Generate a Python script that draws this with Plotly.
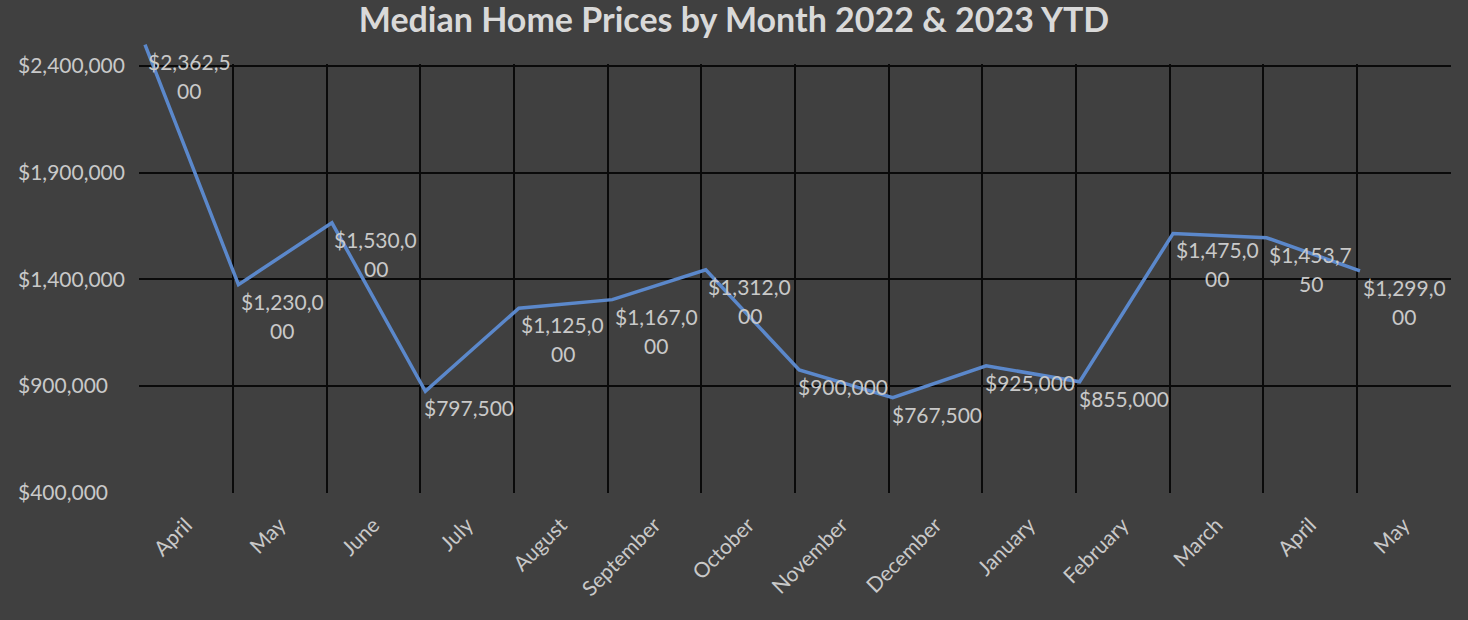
import plotly.graph_objects as go

# ---------------- data ----------------
months = ["April", "May", "June", "July", "August", "September", "October",
          "November", "December", "January", "February", "March", "April", "May"]
# values printed in the data labels
label_prices = [2362500, 1230000, 1530000, 797500, 1125000, 1167000, 1312000,
                900000, 767500, 925000, 855000, 1475000, 1453750, 1299000]
# where the line is actually drawn against the value axis
line_prices = [2500000, 1375000, 1665000, 875000, 1265000, 1305000, 1445000,
               975000, 845000, 995000, 920000, 1615000, 1595000, 1440000]
y_ticks = [400000, 900000, 1400000, 1900000, 2400000]
y_tick_text = ["$400,000", "$900,000", "$1,400,000", "$1,900,000", "$2,400,000"]
title_text = "Median Home Prices by Month 2022 & 2023 YTD"

# ---------------- layout geometry ----------------
W, H = 1468, 620
PL, PR = 139.3, 1450.7          # plot area left / right (px)
Y_TOP_PX, Y_BOT_PX = 66.0, 492.7  # pixel of top / bottom tick value
PT0_PX, PTN_PX = 145.0, 1360.0  # pixel of first / last line point
YLAB_LEFT_PX = 17.0             # left edge of the (left aligned) y tick labels

px_per_val = (Y_BOT_PX - Y_TOP_PX) / (y_ticks[-1] - y_ticks[0])
y_pad = 10000
y_range = [y_ticks[0], y_ticks[-1] + y_pad]
y_dom = [1 - Y_BOT_PX / H, 1 - (Y_TOP_PX - y_pad * px_per_val) / H]
y2_range = [y_ticks[0] - (H - Y_BOT_PX) / px_per_val, y_ticks[-1] + Y_TOP_PX / px_per_val]

n = len(months)
x_dom = [PL / W, PR / W]
s = (PTN_PX - PT0_PX) / (n - 1)
x2_range = [-(PT0_PX - PL) / s, (n - 1) + (PR - PTN_PX) / s]

FONT = "Lato"
TXT = "#C9C9C9"
BG = "#404040"
LINE = "#5B88CB"
GRID = "#0A0A0A"

idx = list(range(n))

fig = go.Figure()
# invisible traces so that the gridded x/y subplot and the label axis get drawn
fig.add_trace(go.Scatter(
    x=idx, y=line_prices, xaxis="x", yaxis="y", mode="none",
    hoverinfo="skip", showlegend=False,
))
fig.add_trace(go.Scatter(
    x=idx, y=line_prices, xaxis="x", yaxis="y3", mode="none",
    hoverinfo="skip", showlegend=False,
))
fig.add_trace(go.Scatter(
    x=idx, y=line_prices, xaxis="x2", yaxis="y2", mode="lines",
    line=dict(color=LINE, width=3.5), hoverinfo="skip", showlegend=False,
))

annotations = []
for i, v in enumerate(label_prices):
    txt = f"${v:,}"
    parts = [txt[:8], txt[8:]] if len(txt) > 8 else [txt]
    for j, p in enumerate(parts):
        annotations.append(dict(
            x=i, y=line_prices[i], xref="x2", yref="y2", text=p,
            showarrow=False, xanchor="center", yanchor="middle",
            xshift=44, yshift=-(16.5 + 29 * j),
            font=dict(family=FONT, size=21, color=TXT),
        ))

fig.update_layout(
    width=W, height=H,
    margin=dict(l=0, r=0, t=0, b=0),
    paper_bgcolor=BG, plot_bgcolor="rgba(0,0,0,0)",
    showlegend=False,
    title=dict(text="<b>" + title_text + "</b>", x=734 / W, xanchor="center",
               y=1 - 20.5 / H, yanchor="middle",
               font=dict(family=FONT, size=34, color="#D9D9D9")),
    xaxis=dict(domain=x_dom, range=[-0.5, n - 0.5], tickmode="array",
               tickvals=idx, ticktext=months, tickangle=-45,
               showgrid=False, zeroline=False, showline=False, ticks="",
               automargin=False, ticklabelstandoff=15,
               tickfont=dict(family=FONT, size=21, color=TXT),
               minor=dict(tickmode="array", tickvals=[i + 0.5 for i in range(n - 1)],
                          showgrid=True, gridcolor=GRID, gridwidth=2, ticks=""),
               anchor="y"),
    yaxis=dict(domain=y_dom, range=y_range, tickmode="array",
               tickvals=y_ticks, showticklabels=False,
               showgrid=True, gridcolor=GRID, gridwidth=2,
               zeroline=False, showline=False, ticks="",
               automargin=False, anchor="x"),
    yaxis3=dict(overlaying="y", anchor="free", side="right",
                position=(YLAB_LEFT_PX - 3) / W, range=y_range,
                tickmode="array", tickvals=y_ticks, ticktext=y_tick_text,
                showgrid=False, zeroline=False, showline=False, ticks="",
                automargin=False, ticklabelstandoff=3,
                tickfont=dict(family=FONT, size=21, color=TXT)),
    xaxis2=dict(domain=x_dom, range=x2_range, visible=False, anchor="y2"),
    yaxis2=dict(domain=[0, 1], range=y2_range, visible=False, anchor="x2"),
    annotations=annotations,
)

fig.write_html("out.html")
